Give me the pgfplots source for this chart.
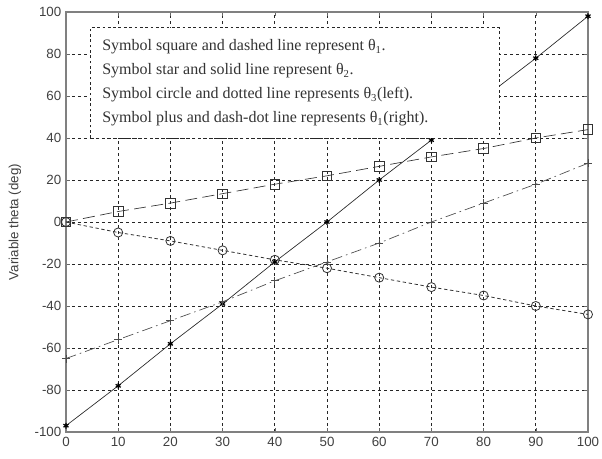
\documentclass[border=0pt]{standalone}
\usepackage{pgfplots}
\pgfplotsset{compat=1.18}
\usepackage{fontspec}
\setmainfont{Liberation Sans}
\newfontfamily\legfont{Liberation Serif}

\pgfplotstableread{
x   t1    t2    t3     t4
0   0     -97   0      -65
10  5     -78   -5     -56
20  9     -58   -9     -47
30  13.5  -39   -13.5  -38
40  18    -19   -18    -28
50  22    0     -22    -19
60  26.5  20    -26.5  -10
70  31    39    -31    0
80  35    59    -35    9
90  40    78    -40    18
100 44    98    -44    28
}\thetadata

\begin{document}
\begin{tikzpicture}
\begin{axis}[
  scale only axis,
  width=391.5pt, height=315pt,
  xmin=0, xmax=100, ymin=-100, ymax=100,
  xtick={0,10,...,100}, ytick={-100,-80,...,100},
  /pgf/number format/assume math mode=true,
  ticklabel style={font=\fontsize{10}{12}\selectfont, text=black!75},
  tick align=inside,
  major tick length=3pt,
  tick style={black!60, thin},
  axis line style={black!50, line width=1.2pt},
  grid=major,
  major grid style={black!85, line width=0.5pt, dash pattern=on 2.5pt off 2pt},
  ylabel={Variable theta (deg)},
  ylabel style={at={(axis description cs:-0.098,0.5)}, anchor=center,
    font=\fontsize{10}{12}\selectfont, text=black!75},
  clip=false,
]
% theta_1: squares, dashed
\addplot[black!80, line width=0.5pt, dash pattern=on 9pt off 4pt,
  mark=square, mark size=3.6pt, mark options={solid, black!80}]
  table[x=x, y=t1] {\thetadata};
% theta_2: stars, solid
\addplot[black!85, line width=0.5pt,
  mark=asterisk, mark size=2.2pt, mark options={solid, black, line width=0.9pt}]
  table[x=x, y=t2] {\thetadata};
% theta_3 (left): circles, dotted
\addplot[black!80, line width=0.6pt, dash pattern=on 2.5pt off 2pt,
  mark=o, mark size=3.4pt, mark options={solid, black!80}]
  table[x=x, y=t3] {\thetadata};
% theta_3 (right): plus, dash-dot
\addplot[black!70, line width=0.5pt, dash pattern=on 8pt off 3pt on 1.2pt off 3pt,
  mark=+, mark size=3pt, mark options={solid, black!70}]
  table[x=x, y=t4] {\thetadata};

% anchor points for the text box drawn on top
\coordinate (boxA) at (axis cs:4.6,40);
\coordinate (boxB) at (axis cs:83,92.4);
\coordinate (lineA) at (axis cs:6.9,83.3);
\coordinate (lineB) at (axis cs:6.9,71.9);
\coordinate (lineC) at (axis cs:6.9,60.5);
\coordinate (lineD) at (axis cs:6.9,49.0);
\end{axis}

% text box, covering the curves behind it
\draw[black!85, fill=white, line width=0.7pt, dash pattern=on 2pt off 2pt]
  (boxA) rectangle (boxB);
\begin{scope}[every node/.style={anchor=west, inner sep=0pt,
    font=\legfont\fontsize{12}{14}\selectfont, text=black!80}]
  \node at (lineA) {Symbol square and dashed line represent θ\textsubscript{1}.};
  \node at (lineB) {Symbol star and solid line represent θ\textsubscript{2}.};
  \node at (lineC) {Symbol circle and dotted line represents θ\textsubscript{3}(left).};
  \node at (lineD) {Symbol plus and dash-dot line represents θ\textsubscript{1}(right).};
\end{scope}

\pgfresetboundingbox
\path (current axis.south west) ++(-49.5pt,-19.5pt) coordinate (bbA);
\path (current axis.north east) ++(10.5pt,9pt) coordinate (bbB);
\path[use as bounding box] (bbA) rectangle (bbB);
\end{tikzpicture}
\end{document}
